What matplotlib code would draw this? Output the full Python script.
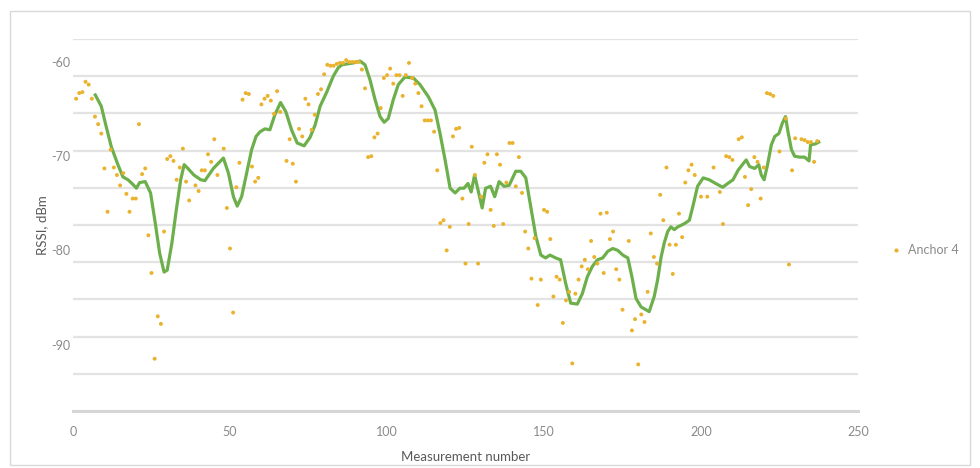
import numpy as np
import matplotlib
matplotlib.use("Agg")
import matplotlib.pyplot as plt
from matplotlib.patches import Rectangle
from matplotlib.lines import Line2D

# Anchor 4 raw RSSI readings (measurement number, dBm)
meas_x = [1, 2, 3, 4, 5, 6, 7, 8, 9, 10, 11, 12, 13, 14, 15, 16, 17, 18, 19, 20,
          21, 22, 23, 24, 25, 26, 27, 28, 29, 30, 31, 32, 33, 34, 35, 36, 37, 39, 40, 41,
          42, 43, 44, 45, 46, 48, 49, 50, 51, 52, 53, 54, 55, 56, 57, 58, 59, 60, 61, 62,
          63, 64, 65, 66, 68, 69, 70, 71, 72, 73, 74, 75, 76, 77, 78, 79, 80, 81, 82, 83,
          84, 85, 86, 87, 88, 89, 90, 91, 92, 93, 94, 95, 96, 97, 98, 99, 100, 101, 102, 103,
          104, 105, 106, 107, 108, 109, 110, 111, 112, 113, 114, 115, 116, 117, 118, 119, 120, 121, 122, 123,
          124, 125, 126, 127, 128, 129, 130, 131, 132, 133, 134, 135, 136, 137, 138, 139, 140, 141, 142, 143,
          144, 145, 146, 147, 148, 149, 150, 151, 152, 153, 154, 155, 156, 157, 158, 159, 160, 161, 162, 163,
          164, 165, 166, 167, 168, 169, 170, 171, 172, 173, 174, 175, 177, 178, 179, 180, 181, 182, 183, 184,
          185, 186, 187, 188, 189, 190, 191, 192, 193, 194, 195, 196, 197, 198, 200, 202, 204, 206, 207, 208,
          209, 210, 212, 213, 214, 215, 216, 217, 218, 219, 220, 221, 222, 223, 225, 227, 228, 229, 230, 232,
          233, 234, 235, 236, 237]
meas_rssi = [-63.9, -63.3, -63.2, -62.1, -62.4, -63.9, -65.8, -66.6, -67.6, -71.3, -75.9, -69.3, -71.2, -72.0, -73.1, -71.8, -74.0, -75.9, -74.5, -74.5,
             -66.6, -71.9, -71.3, -78.4, -82.4, -91.5, -87.0, -87.8, -78.0, -70.3, -70.0, -70.5, -72.5, -71.2, -69.2, -72.7, -74.7, -73.1, -73.7, -71.5,
             -71.5, -69.8, -70.6, -68.2, -72.0, -69.2, -75.5, -79.8, -86.6, -73.3, -70.7, -64.0, -63.3, -63.4, -71.1, -72.7, -72.3, -64.5, -63.9, -63.6,
             -64.1, -65.5, -63.1, -65.3, -70.5, -68.2, -70.8, -72.7, -67.1, -67.9, -63.9, -64.5, -67.2, -65.6, -63.4, -62.9, -61.3, -60.3, -60.4, -60.4,
             -60.2, -60.1, -60.1, -59.8, -60.0, -60.0, -60.0, -60.0, -60.8, -62.8, -70.1, -70.0, -68.0, -67.6, -64.9, -61.7, -61.4, -60.7, -62.3, -61.4,
             -61.4, -63.6, -61.4, -60.1, -61.7, -62.3, -63.3, -64.7, -66.2, -66.2, -66.2, -67.4, -71.5, -77.1, -76.8, -80.0, -77.5, -67.9, -67.1, -67.0,
             -74.5, -81.4, -77.2, -69.0, -72.0, -81.4, -74.3, -70.7, -69.8, -75.7, -77.4, -69.8, -70.9, -77.2, -72.8, -68.6, -68.6, -73.2, -70.1, -73.9,
             -78.0, -79.8, -83.0, -78.7, -85.8, -83.1, -75.7, -75.9, -78.8, -84.9, -82.8, -83.1, -87.7, -85.3, -84.4, -92.0, -84.6, -83.1, -81.7, -81.0,
             -82.0, -79.0, -80.7, -81.4, -76.1, -82.4, -76.0, -78.8, -78.0, -82.0, -83.1, -86.3, -79.0, -88.5, -87.3, -92.1, -86.8, -87.6, -84.4, -78.2,
             -80.7, -81.4, -74.1, -76.8, -71.2, -79.4, -82.5, -79.4, -76.1, -78.6, -72.8, -71.5, -70.9, -72.0, -74.3, -74.3, -71.2, -73.8, -77.2, -70.0,
             -70.1, -70.4, -68.2, -68.0, -72.2, -75.2, -73.5, -70.1, -70.6, -74.5, -71.2, -63.3, -63.4, -63.6, -69.5, -66.0, -81.5, -71.5, -68.1, -68.2,
             -68.3, -68.5, -68.5, -70.6, -68.4]

# smoothed RSSI trace
trend_x = [7.1, 9.0, 10.6, 12.2, 14.3, 15.9, 17.5, 18.8, 20.2, 21.2, 23.0, 24.7, 26.2, 27.6, 29.0, 30.0, 31.5, 32.9, 34.3, 35.4,
           36.6, 38.5, 40.7, 42.0, 44.7, 47.9, 49.5, 51.1, 52.3, 53.7, 55.3, 56.9, 58.3, 59.6, 61.1, 62.7, 64.3, 66.1, 67.8, 69.6,
           71.4, 73.6, 75.5, 77.1, 78.7, 80.8, 82.9, 84.5, 85.6, 89.3, 91.4, 93.0, 94.6, 96.2, 97.8, 99.1, 100.4, 102.0, 103.6, 105.7,
           108.4, 110.5, 113.2, 115.3, 116.9, 118.5, 120.1, 121.7, 123.2, 124.5, 125.8, 126.8, 127.9, 129.0, 130.3, 131.4, 133.0, 134.3, 135.7, 137.3,
           138.9, 141.0, 142.6, 144.2, 145.8, 147.4, 149.0, 150.5, 151.9, 153.7, 155.3, 156.9, 158.5, 160.6, 162.2, 163.8, 165.4, 167.0, 168.7, 170.3,
           171.9, 173.5, 175.1, 176.7, 178.0, 179.3, 180.9, 182.5, 183.5, 185.1, 186.2, 187.3, 188.3, 189.4, 190.4, 191.5, 192.6, 193.9, 195.0, 196.3,
           197.5, 198.9, 200.7, 202.6, 204.7, 206.9, 208.5, 210.2, 211.8, 213.4, 214.4, 215.5, 217.1, 218.4, 219.2, 220.1, 221.2, 222.4, 223.5, 224.8,
           225.9, 226.9, 227.7, 228.8, 229.8, 231.4, 233.0, 234.4, 234.9, 236.4, 237.5]
trend_rssi = [-63.5, -64.7, -66.9, -69.0, -70.9, -72.2, -72.5, -72.9, -73.4, -72.8, -72.7, -73.9, -77.1, -80.3, -82.3, -82.1, -79.2, -75.7, -72.5, -70.9,
              -71.3, -72.0, -72.5, -72.6, -71.3, -70.2, -71.8, -74.3, -75.3, -74.3, -71.8, -69.3, -67.9, -67.4, -67.1, -67.2, -65.6, -64.3, -65.3, -67.2,
              -68.6, -68.9, -68.0, -66.7, -64.7, -63.2, -61.5, -60.6, -60.3, -60.1, -59.9, -60.3, -61.9, -64.0, -65.8, -66.4, -66.0, -64.0, -62.4, -61.6,
              -61.7, -62.4, -63.7, -65.1, -67.6, -70.4, -73.4, -73.9, -73.4, -73.4, -72.9, -73.8, -72.0, -73.6, -75.5, -73.4, -73.2, -74.3, -72.7, -73.2,
              -73.1, -71.6, -71.6, -72.3, -75.4, -78.5, -80.5, -80.8, -80.5, -80.8, -81.0, -83.5, -85.6, -85.7, -84.6, -82.8, -81.7, -81.0, -80.8, -80.1,
              -79.8, -80.0, -80.5, -80.8, -82.8, -85.1, -86.0, -86.3, -86.5, -84.9, -83.1, -80.7, -79.2, -78.0, -77.5, -77.8, -77.5, -77.3, -77.1, -76.8,
              -75.2, -73.2, -72.3, -72.5, -72.9, -73.3, -72.9, -72.5, -71.5, -70.8, -70.4, -71.1, -71.3, -70.9, -72.0, -72.5, -70.9, -68.8, -67.9, -67.6,
              -66.5, -65.8, -67.4, -69.3, -70.0, -70.1, -70.1, -70.5, -68.8, -68.7, -68.5]

y_ticks = [-60, -70, -80, -90]
x_ticks = [0, 50, 100, 150, 200, 250]

plt.rcParams["axes.unicode_minus"] = False

font = "Lato"
label_grey = "#8a8a8a"
grid_grey = "#e3e3e3"
dot_gold = "#eab22d"
line_green = "#6db04b"

fig = plt.figure(figsize=(9.8, 4.68), dpi=100)
ax = fig.add_axes([73 / 980, 1 - 411 / 468, 785 / 980, 372 / 468])

y_top, y_bot = -57.56, -97.05
ax.set_xlim(0, 250)
ax.set_ylim(y_bot, y_top)

# horizontal guide lines, evenly spread over the plot height
for gy in np.linspace(y_top, y_bot, 11)[:-1]:
    ax.axhline(gy, color=grid_grey, lw=1.6, zorder=0)
ax.axhline(y_bot, color="#d6d6d6", lw=2.2, zorder=0, clip_on=False)

ax.plot(trend_x, trend_rssi, color=line_green, lw=2.3, zorder=2, solid_joinstyle="round")
ax.scatter(meas_x, meas_rssi, s=8, color=dot_gold, edgecolors="none", zorder=3)

for s in ax.spines.values():
    s.set_visible(False)
ax.set_yticks(y_ticks)
ax.set_xticks(x_ticks)
ax.tick_params(length=0, labelsize=9, labelcolor=label_grey)
ax.tick_params(axis="y", pad=2)
ax.tick_params(axis="x", pad=11)
for t in ax.get_xticklabels() + ax.get_yticklabels():
    t.set_fontfamily(font)

ax.set_xlabel("Measurement number", fontsize=9.5, color="#595959", fontfamily=font, labelpad=9)
ax.set_ylabel("RSSI, dBm", fontsize=9.5, color="#595959", fontfamily=font, labelpad=2)

handle = Line2D([], [], ls="none", marker="o", ms=3, color=dot_gold, markeredgewidth=0)
fig.legend([handle], ["Anchor 4"], loc="center left", bbox_to_anchor=(880 / 980, 1 - 250 / 468),
           frameon=False, handlelength=0.8, handletextpad=0.5,
           prop={"family": font, "size": 9}, labelcolor=label_grey)

# outer chart frame
fig.patches.append(Rectangle((10 / 980, 3 / 468), 960 / 980, 454 / 468, transform=fig.transFigure,
                             fill=False, edgecolor="#d9d9d9", lw=1.0))

fig.savefig("out.png", dpi=100, facecolor="white")
